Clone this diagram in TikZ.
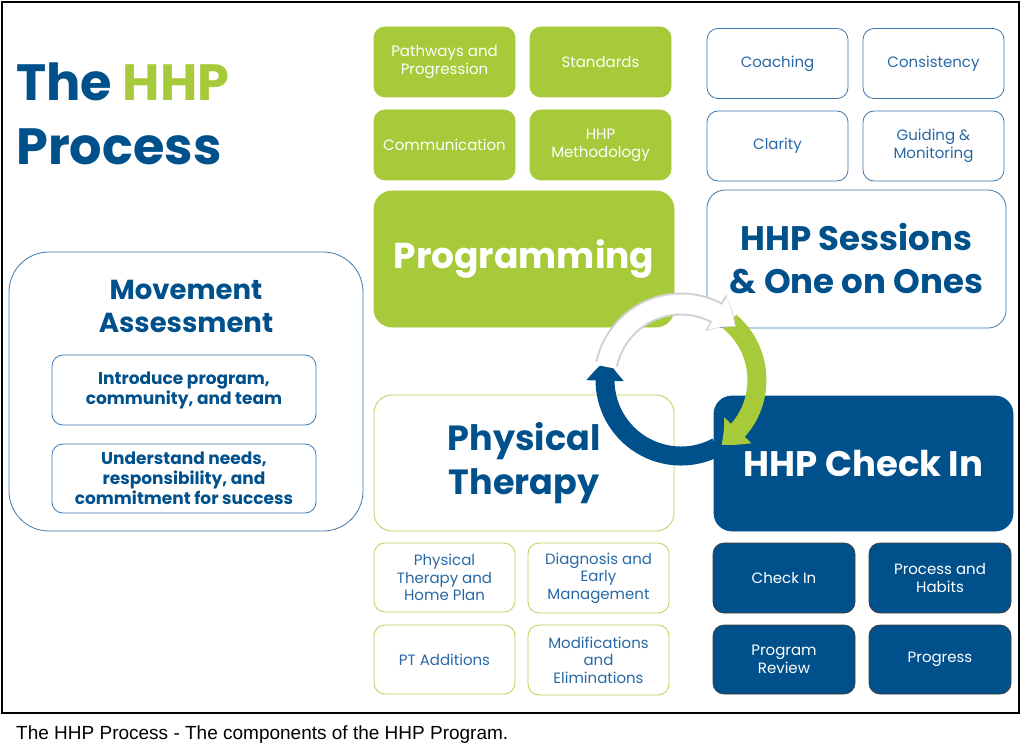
\documentclass[tikz,border=0pt]{standalone}
\usepackage{fontspec}
\setmainfont{Poppins}
\newfontfamily\captionfont{Liberation Sans}
\usetikzlibrary{arrows.meta, bending, positioning}
\definecolor{hhpblue}{RGB}{0,80,140}
\definecolor{hhpgreen}{RGB}{166,202,57}
\definecolor{hhptext}{RGB}{40,105,165}
\definecolor{hhpline}{RGB}{60,120,175}

\begin{document}
\begin{tikzpicture}[
    x=1pt, y=-1pt,
    tile/.style={minimum width=141pt, minimum height=70pt, inner sep=0pt, align=center,
        rounded corners=11pt, line width=0.8pt, font=\fontsize{15}{18}\selectfont},
    greentile/.style={tile, fill=hhpgreen, draw=hhpgreen, text=white},
    bluetile/.style={tile, fill=white, draw=hhpline, text=hhptext},
    pttile/.style={tile, fill=white, draw=hhpgreen!85, text=hhptext},
    checktile/.style={tile, fill=hhpblue, draw=black!75, text=white},
    bigbox/.style={minimum width=300pt, minimum height=136pt, inner sep=0pt, align=center,
        rounded corners=18pt, line width=0.8pt, font=\bfseries\fontsize{34}{43}\selectfont},
    ring/.style={line width=19pt, -{Triangle[width=36pt, length=22pt, bend]}}
]
    \useasboundingbox (0,0) rectangle (1024,751);
    \fill[white] (0,0) rectangle (1024,751);

    % Frame and caption
    \draw[line width=2.2pt] (2,2) rectangle (1019,713);
    \node[anchor=west, inner sep=0pt, font=\captionfont\fontsize{19}{22}\selectfont] (caption) at (16,735)
        {The HHP Process - The components of the HHP Program.};

    % Title
    \node[anchor=base west, inner sep=0pt, text=hhpblue, font=\bfseries\fontsize{51}{60}\selectfont] (title1) at (16,101)
        {The \textcolor{hhpgreen}{HHP}};
    \node[anchor=base west, inner sep=0pt, text=hhpblue, font=\bfseries\fontsize{51}{60}\selectfont] (title2) at (16,165)
        {Process};

    % Programming
    \node[greentile] (pathways) at (444.5,62) {Pathways and\\Progression};
    \node[greentile] (standards) at (600.5,62) {Standards};
    \node[greentile] (communication) at (444.5,145) {Communication};
    \node[greentile] (methodology) at (600.5,145) {HHP\\Methodology};
    \node[bigbox, fill=hhpgreen, draw=hhpgreen, text=white, font=\bfseries\fontsize{36}{43}\selectfont] (programming) at (524,259) {Programming};

    % HHP Sessions
    \node[bluetile] (coaching) at (777.5,63.5) {Coaching};
    \node[bluetile] (consistency) at (933.5,63.5) {Consistency};
    \node[bluetile] (clarity) at (777.5,146) {Clarity};
    \node[bluetile] (guiding) at (933.5,146) {Guiding \&\\Monitoring};
    \node[bigbox, fill=white, draw=hhpline, text=hhpblue, minimum width=299pt, minimum height=138pt] (sessions) at (856.5,259)
        {HHP Sessions\\\& One on Ones};

    % Movement Assessment
    \node[minimum width=354pt, minimum height=279pt, rounded corners=40pt, draw=hhpline, line width=0.8pt] (movement) at (186,391.5) {};
    \node[text=hhpblue, align=center, font=\bfseries\fontsize{27.5}{33}\selectfont] (movetitle) at (186,306) {Movement\\Assessment};
    \node[bluetile, minimum width=264pt, text=hhpblue, font=\bfseries\fontsize{17}{20}\selectfont] (introduce) at (184,390)
        {Introduce program,\\community, and team};
    \node[bluetile, minimum width=264pt, minimum height=69pt, text=hhpblue, font=\bfseries\fontsize{17}{20}\selectfont] (understand) at (184,478.5)
        {Understand needs,\\responsibility, and\\commitment for success};

    % Physical Therapy
    \node[bigbox, fill=white, draw=hhpgreen!85, text=hhpblue, font=\bfseries\fontsize{35}{44}\selectfont] (therapy) at (524,463)
        {Physical\\Therapy};
    \node[pttile, minimum height=69pt, font=\fontsize{15}{17.5}\selectfont] (homeplan) at (444.5,577.5) {Physical\\Therapy and\\Home Plan};
    \node[pttile, font=\fontsize{15}{17.5}\selectfont] (diagnosis) at (598.5,578) {Diagnosis and\\Early\\Management};
    \node[pttile, minimum height=69pt] (additions) at (444.5,659.5) {PT Additions};
    \node[pttile, font=\fontsize{15}{17.5}\selectfont] (modifications) at (598.5,660) {Modifications\\and\\Eliminations};

    % HHP Check In
    \node[bigbox, fill=hhpblue, draw=hhpblue, text=white, minimum width=299pt, minimum height=135pt, font=\bfseries\fontsize{35.5}{40}\selectfont] (checkin) at (863.5,463.5)
        {HHP Check In};
    \node[checktile, minimum width=142pt] (checkintile) at (784,578) {Check In};
    \node[checktile, minimum width=142pt] (habits) at (940,578) {Process and\\Habits};
    \node[checktile, minimum width=142pt, minimum height=69pt] (review) at (784,659.5) {Program\\Review};
    \node[checktile, minimum width=142pt, minimum height=69pt] (progress) at (940,659.5) {Progress};

    % Cycle arrows
    \coordinate (cycle) at (681,380);
    \draw[ring, hhpblue] (cycle) ++(62:76) arc[start angle=62, end angle=196, radius=76];
    \draw[ring, hhpgreen] (cycle) ++(-50:76) arc[start angle=-50, end angle=58, radius=76];
    \draw[ring, black!18, line width=23pt, -{Triangle[width=40pt, length=25pt, bend]}] (cycle) ++(-168:76) arc[start angle=-168, end angle=-44, radius=76];
    \draw[ring, white] (cycle) ++(-170:76) arc[start angle=-170, end angle=-45, radius=76];
\end{tikzpicture}
\end{document}
